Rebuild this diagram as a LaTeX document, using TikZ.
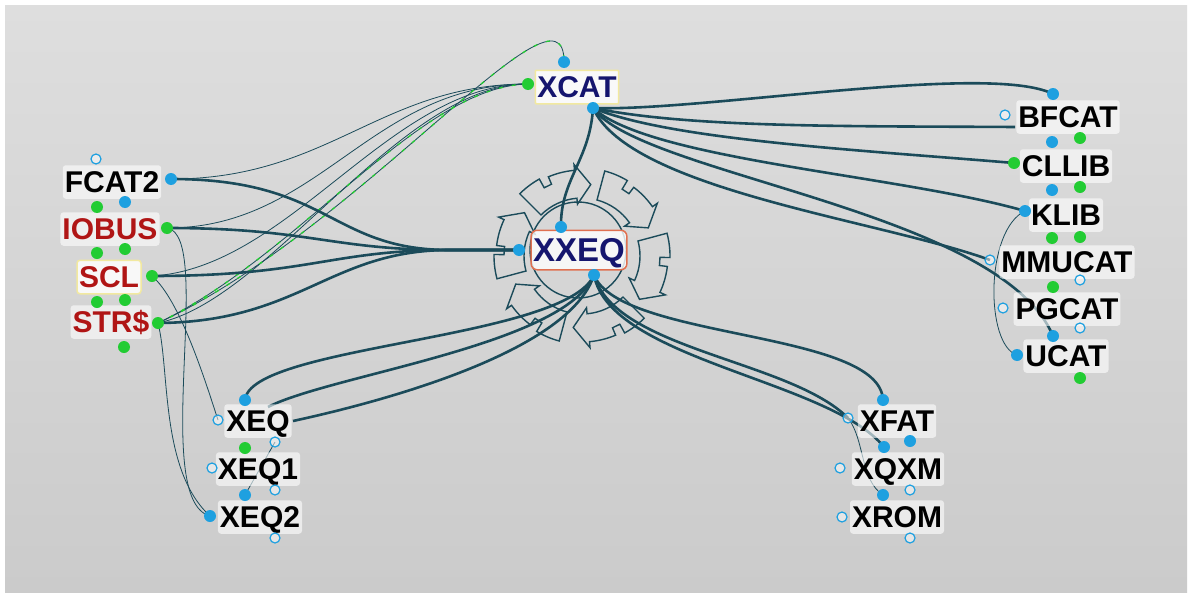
\documentclass[tikz,border=0pt]{standalone}
\usepackage{fontspec}
\setmainfont{Liberation Sans}
\definecolor{cLine}{HTML}{1B4B5A}
\definecolor{cBlue}{HTML}{1EA0E0}
\definecolor{cGreen}{HTML}{22CC33}
\definecolor{cNavy}{HTML}{15156E}
\definecolor{cRed}{HTML}{B01515}
\definecolor{cTop}{HTML}{DEDEDE}
\definecolor{cBot}{HTML}{CBCBCB}
\definecolor{cYel}{HTML}{F2E9A0}
\definecolor{cOrange}{HTML}{E07050}
\tikzset{
  lbl/.style={rounded corners=3pt, fill=white, fill opacity=0.6, text opacity=1,
    inner xsep=2pt, inner ysep=6pt, text height=21.5pt, text depth=0pt,
    font=\fontsize{30}{30}\selectfont\bfseries},
  thick line/.style={draw=cLine, line width=2.6pt},
  thin line/.style={draw=cLine, line width=0.8pt},
  green dash/.style={draw=cGreen, line width=1.3pt, dash pattern=on 4pt off 9pt},
  orn/.style={draw=cLine, line width=1.4pt},
  bd/.style={circle, fill=cBlue, inner sep=0pt, minimum size=12pt},
  gd/.style={circle, fill=cGreen, inner sep=0pt, minimum size=12pt},
  hd/.style={circle, draw=cBlue, line width=1.2pt, fill=white, fill opacity=0.5, inner sep=0pt, minimum size=10pt}
}
\begin{document}
\begin{tikzpicture}[x=1pt,y=-1pt]
\useasboundingbox (0,0) rectangle (1192,597);
\fill[white] (0,0) rectangle (1192,597);
\shade[top color=cTop, bottom color=cBot] (5,5) rectangle (1187,592);

% ports
\coordinate (fcTop) at (96,159);  \coordinate (fcR) at (171,179); \coordinate (fcB) at (125,202);
\coordinate (ioT) at (97,207);    \coordinate (ioR) at (167,228); \coordinate (ioB1) at (97,253); \coordinate (ioB2) at (125,249);
\coordinate (sclR) at (152,276);  \coordinate (sclB1) at (97,302); \coordinate (sclB2) at (125,300);
\coordinate (strR) at (158,323);  \coordinate (strB) at (124,347);
\coordinate (xcL) at (528,84);    \coordinate (xcT) at (564,62);  \coordinate (xcB) at (593,108);
\coordinate (xxT) at (561,227);   \coordinate (xxL) at (519,250); \coordinate (xxB) at (594,275);
\coordinate (bfT) at (1053,94);   \coordinate (bfL) at (1005,115); \coordinate (bfB1) at (1052,142); \coordinate (bfB2) at (1080,138);
\coordinate (bfE) at (1015,127);
\coordinate (clL) at (1014,163);  \coordinate (clB1) at (1052,190); \coordinate (clB2) at (1080,187);
\coordinate (klL) at (1025,211);  \coordinate (klB1) at (1052,238); \coordinate (klB2) at (1080,237);
\coordinate (mmL) at (990,260);   \coordinate (mmB1) at (1053,287); \coordinate (mmB2) at (1080,280);
\coordinate (pgL) at (1003,308);  \coordinate (pgB1) at (1053,336); \coordinate (pgB2) at (1080,328);
\coordinate (ucL) at (1017,355);  \coordinate (ucB) at (1080,378);
\coordinate (xeT) at (245,400);   \coordinate (xeL) at (218,420); \coordinate (xeB2) at (275,442); \coordinate (xeB1) at (245,448);
\coordinate (xeE1) at (268,407);  \coordinate (xeE2) at (293,421);
\coordinate (x1L) at (212,468);   \coordinate (x1B2) at (275,490); \coordinate (x1B1) at (245,495);
\coordinate (x2L) at (210,516);   \coordinate (x2B) at (275,538);
\coordinate (xfT) at (883,400);   \coordinate (xfL) at (848,418); \coordinate (xfB2) at (910,441); \coordinate (xfB1) at (884,447);
\coordinate (xqL) at (840,468);   \coordinate (xqB2) at (910,490); \coordinate (xqB1) at (883,495);
\coordinate (xrL) at (842,517);   \coordinate (xrB) at (910,538);

% ornament around XXEQ
\begin{scope}[shift={(582,256)}]
  \foreach \a in {-15,45,105,165,225,285}{
    \draw[orn] (\a:58) arc[start angle=\a, end angle=\a+40, radius=58]
      -- (\a+40:52) -- (\a+52:72) -- (\a+40:92) -- (\a+40:86)
      arc[start angle=\a+40, end angle=\a+22, radius=86]
      -- (\a+22:78) -- (\a+16:78) -- (\a+16:88)
      arc[start angle=\a+16, end angle=\a, radius=88] -- cycle;
  }
\end{scope}
\draw[orn] (578,250) circle[radius=48];

% thin connectors
\draw[thin line] (fcR) .. controls (330,179) and (380,84) .. (xcL);
\draw[thin line] (ioR) .. controls (320,228) and (370,84) .. (xcL);
\draw[thin line] (sclR) .. controls (290,268) and (390,84) .. (xcL);
\draw[thin line] (strR) .. controls (270,300) and (400,84) .. (xcL);
\draw[thin line] (strR) .. controls (360,230) and (565,-35) .. (xcT);
\draw[green dash] (strR) .. controls (360,230) and (565,-35) .. (xcT);
\draw[thin line] (strR) .. controls (300,255) and (420,86) .. (xcL);
\draw[green dash] (strR) .. controls (300,255) and (420,86) .. (xcL);
\draw[thin line] (ioR) .. controls (215,235) and (150,500) .. (x2L);
\draw[thin line] (sclR) .. controls (180,300) and (205,380) .. (xeL);
\draw[thin line] (strR) .. controls (170,370) and (160,470) .. (x2L);
\draw[thin line] (klL) .. controls (985,230) and (985,345) .. (ucL);
\draw[thin line] (xeB2) -- (x1B1);
\draw[thin line] (xfL) .. controls (865,440) and (860,480) .. (xqB1);

% thick connectors: left group to XXEQ
\draw[thick line] (fcR) .. controls (330,179) and (330,250) .. (450,250) -- (xxL);
\draw[thick line] (ioR) .. controls (310,228) and (330,250) .. (450,250) -- (xxL);
\draw[thick line] (sclR) .. controls (310,276) and (330,250) .. (450,250) -- (xxL);
\draw[thick line] (strR) .. controls (300,322) and (330,250) .. (450,250) -- (xxL);

% XCAT fan
\draw[thick line] (xcB) .. controls (700,112) and (990,62) .. (bfT);
\draw[thick line] (xcB) .. controls (690,128) and (850,126) .. (bfE);
\draw[thick line] (xcB) .. controls (670,140) and (860,150) .. (clL);
\draw[thick line] (xcB) .. controls (650,160) and (900,175) .. (klL);
\draw[thick line] (xcB) .. controls (640,175) and (1000,210) .. (pgB1);
\draw[thick line] (xcB) .. controls (630,190) and (880,220) .. (mmL);
\draw[thick line] (xcB) .. controls (590,160) and (560,180) .. (xxT);

% XXEQ to bottom
\draw[thick line] (xxB) .. controls (565,340) and (250,345) .. (xeT);
\draw[thick line] (xxB) .. controls (565,345) and (330,375) .. (xeE1);
\draw[thick line] (xxB) .. controls (570,350) and (390,400) .. (xeE2);
\draw[thick line] (xxB) .. controls (620,340) and (880,330) .. (xfT);
\draw[thick line] (xxB) .. controls (615,350) and (790,360) .. (xfL);
\draw[thick line] (xxB) .. controls (610,360) and (830,380) .. (xfB1);

% nodes
\node[lbl] (fcat2) at (112,182) {FCAT2};
\node[lbl, text=cRed] (iobus) at (110,229) {IOBUS};
\node[lbl, text=cRed, draw=cYel, line width=1.5pt, fill=white, fill opacity=0.85] (scl) at (109,277) {SCL};
\node[lbl, text=cRed] (str) at (111,322) {STR\$};
\node[lbl, text=cNavy, draw=cYel, line width=1.5pt, fill=white, fill opacity=0.85, rounded corners=1pt] (xcat) at (577,87) {XCAT};
\node[lbl, text=cNavy, draw=cOrange, line width=1.5pt, fill=white, fill opacity=0.8, rounded corners=6pt, inner ysep=8pt, font=\fontsize{33}{33}\selectfont\bfseries, text height=23.5pt] (xxeq) at (579,250) {XXEQ};
\node[lbl] (bfcat) at (1068,117) {BFCAT};
\node[lbl] (cllib) at (1066,166) {CLLIB};
\node[lbl] (klib) at (1066,215) {KLIB};
\node[lbl] (mmucat) at (1067,262) {MMUCAT};
\node[lbl] (pgcat) at (1067,309) {PGCAT};
\node[lbl] (ucat) at (1066,356) {UCAT};
\node[lbl] (xeq) at (258,421) {XEQ};
\node[lbl] (xeq1) at (258,469) {XEQ1};
\node[lbl] (xeq2) at (260,517) {XEQ2};
\node[lbl] (xfat) at (897,421) {XFAT};
\node[lbl] (xqxm) at (898,469) {XQXM};
\node[lbl] (xrom) at (897,517) {XROM};

% port dots
\foreach \c in {fcR,fcB,xcT,xcB,xxT,xxL,xxB,bfT,bfB1,clB1,klL,pgB1,ucL,xeT,x1B1,x2L,xfT,xfB2,xfB1,xqB1}
  \node[bd] at (\c) {};
\foreach \c in {ioT,ioR,ioB1,ioB2,sclR,sclB1,sclB2,strR,strB,xcL,bfB2,clL,clB2,klB1,klB2,mmB1,ucB,xeB1}
  \node[gd] at (\c) {};
\foreach \c in {fcTop,bfL,mmL,mmB2,pgL,pgB2,xeL,xeB2,x1L,x1B2,x2B,xfL,xqL,xqB2,xrL,xrB}
  \node[hd] at (\c) {};
\end{tikzpicture}
\end{document}
